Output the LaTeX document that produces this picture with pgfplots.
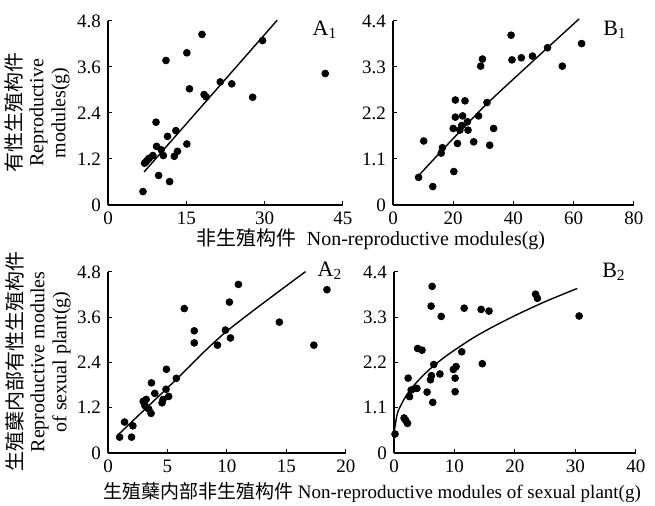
\documentclass[border=0pt]{standalone}
\usepackage{fontspec}
\setmainfont{Liberation Serif}
\newfontfamily\cjk{Noto Sans CJK SC}
\usepackage{pgfplots}
\pgfplotsset{compat=1.18}

\pgfplotsset{
  panel/.style={
    scale only axis, anchor=south west,
    axis lines=left, axis line style={-, line width=0.6pt},
    tick align=inside, major tick length=2pt,
    tick style={black, line width=0.5pt},
    ticklabel style={font=\fontsize{9.5}{10}\selectfont},
    /pgf/number format/assume math mode=true,
    /pgf/number format/fixed,
    clip=false,
  },
  pts/.style={only marks, mark=*, mark size=1.7pt, black},
  fit/.style={no marks, smooth, black, line width=0.7pt},
}

\begin{document}
\begin{tikzpicture}
\useasboundingbox (0,0) rectangle (327.5pt,253pt);

% A1
\begin{axis}[panel, at={(54pt,150.5pt)}, width=117.5pt, height=92pt,
  xmin=0, xmax=45, ymin=0, ymax=4.8,
  xtick={0,15,30,45}, ytick={0,1.2,2.4,3.6,4.8},
  yticklabel style={/pgf/number format/precision=1}]
\addplot[pts] coordinates {
 (6.7,0.35) (7.0,1.09) (7.3,1.13) (7.6,1.18) (7.9,1.22) (8.6,1.29)
 (9.2,2.16) (9.3,1.53) (9.7,0.77) (10.2,1.44) (10.6,1.29) (11.1,3.77)
 (11.4,1.79) (11.8,0.61) (12.7,1.27) (13.0,1.94) (13.3,1.40) (15.1,1.59)
 (15.1,3.97) (15.6,3.03) (18.0,4.45) (18.4,2.88) (18.8,2.82) (21.5,3.21)
 (23.7,3.16) (27.7,2.81) (29.6,4.29) (41.6,3.43)};
\addplot[fit] coordinates {(6.9,0.86) (32.4,4.82)};
\end{axis}

% B1
\begin{axis}[panel, at={(196.5pt,150.5pt)}, width=120.5pt, height=92pt,
  xmin=0, xmax=80, ymin=0, ymax=4.4,
  xtick={0,20,40,60,80}, ytick={0,1.1,2.2,3.3,4.4},
  yticklabel style={/pgf/number format/precision=1}]
\addplot[pts] coordinates {
 (8.5,0.66) (10.2,1.53) (13.2,0.44) (16.0,1.24) (16.4,1.37) (20.0,1.83)
 (20.2,0.80) (20.7,2.51) (20.7,2.10) (21.4,1.47) (22.2,1.79) (22.8,1.90)
 (23.1,2.13) (23.9,2.49) (24.7,1.99) (24.9,1.79) (26.8,1.51) (28.4,2.13)
 (29.1,3.32) (29.7,3.49) (31.2,2.45) (32.1,1.43) (33.4,1.83) (39.2,4.06)
 (39.5,3.47) (42.6,3.52) (46.3,3.56) (51.3,3.76) (56.2,3.32) (62.6,3.86)};
\addplot[fit] coordinates {(8.2,0.68) (20,1.59) (31.2,2.42) (46,3.41) (61.8,4.45)};
\end{axis}

% A2
\begin{axis}[panel, at={(54pt,26.5pt)}, width=119pt, height=90.5pt,
  xmin=0, xmax=20, ymin=0, ymax=4.8,
  xtick={0,5,10,15,20}, ytick={0,1.2,2.4,3.6,4.8},
  yticklabel style={/pgf/number format/precision=1}]
\addplot[pts] coordinates {
 (0.98,0.42) (1.39,0.82) (1.98,0.42) (2.09,0.72) (2.96,1.37) (3.09,1.26)
 (3.21,1.42) (3.29,1.20) (3.43,1.16) (3.62,1.05) (3.65,1.86) (3.93,1.58)
 (4.54,1.33) (4.63,1.42) (4.88,1.69) (4.91,2.22) (5.10,1.50) (5.74,1.98)
 (6.41,3.83) (7.25,3.24) (7.25,2.92) (9.20,2.86) (9.87,3.26) (10.2,4.00)
 (10.29,3.05) (10.96,4.47) (14.4,3.47) (17.3,2.86) (18.4,4.33)};
\addplot[fit] coordinates {(0.84,0.48) (5.74,1.95) (9.87,3.2) (16.6,4.81)};
\end{axis}

% B2
\begin{axis}[panel, at={(197pt,26.5pt)}, width=121pt, height=90.5pt,
  xmin=0, xmax=40, ymin=0, ymax=4.4,
  xtick={0,10,20,30,40}, ytick={0,1.1,2.2,3.3,4.4},
  yticklabel style={/pgf/number format/precision=1}]
\addplot[pts] coordinates {
 (0.17,0.46) (1.67,0.85) (1.95,0.79) (2.23,0.72) (2.34,1.82) (2.57,1.37)
 (2.84,1.53) (3.51,1.57) (3.79,1.57) (3.90,2.54) (4.63,2.50) (5.47,1.48)
 (6.02,1.78) (6.13,3.57) (6.19,1.88) (6.30,4.05) (6.41,1.23) (6.58,2.15)
 (7.59,1.92) (7.81,3.32) (9.82,2.03) (10.1,1.82) (10.1,1.49) (10.26,2.10)
 (11.2,2.46) (11.6,3.52) (14.4,3.49) (14.6,2.17) (15.7,3.45) (23.4,3.86)
 (23.7,3.76) (30.6,3.33)};
\addplot[fit] coordinates {(0,0.48) (0.5,0.93) (1,1.12) (2,1.39) (3,1.59)
 (4,1.76) (6,2.05) (8,2.29) (10,2.50) (13,2.79) (16,3.04) (20,3.34)
 (25,3.68) (30.3,4.0)};
\end{axis}

% panel tags
\node[font=\fontsize{11}{12}\selectfont] at (162.5pt,238pt) {A\textsubscript{1}};
\node[font=\fontsize{11}{12}\selectfont] at (307.5pt,238pt) {B\textsubscript{1}};
\node[font=\fontsize{11}{12}\selectfont] at (165pt,117.5pt) {A\textsubscript{2}};
\node[font=\fontsize{11}{12}\selectfont] at (307pt,117pt) {B\textsubscript{2}};

% axis titles
\node[rotate=90, align=center, font=\fontsize{10}{11}\selectfont]
  at (18.5pt,196.5pt) {{\cjk 有性生殖构件}\\Reproductive\\modules(g)};
\node[rotate=90, align=center, font=\fontsize{10}{11}\selectfont]
  at (19pt,72pt) {{\cjk 生殖蘖内部有性生殖构件}\\Reproductive modules\\of sexual plant(g)};
\node[font=\fontsize{10}{11}\selectfont] at (185.5pt,133.5pt)
  {{\cjk 非生殖构件}\ \ Non-reproductive modules(g)};
\node[font=\fontsize{9.5}{11}\selectfont] at (186pt,6.5pt)
  {{\cjk 生殖蘖内部非生殖构件}\ Non-reproductive modules of sexual plant(g)};
\end{tikzpicture}
\end{document}
